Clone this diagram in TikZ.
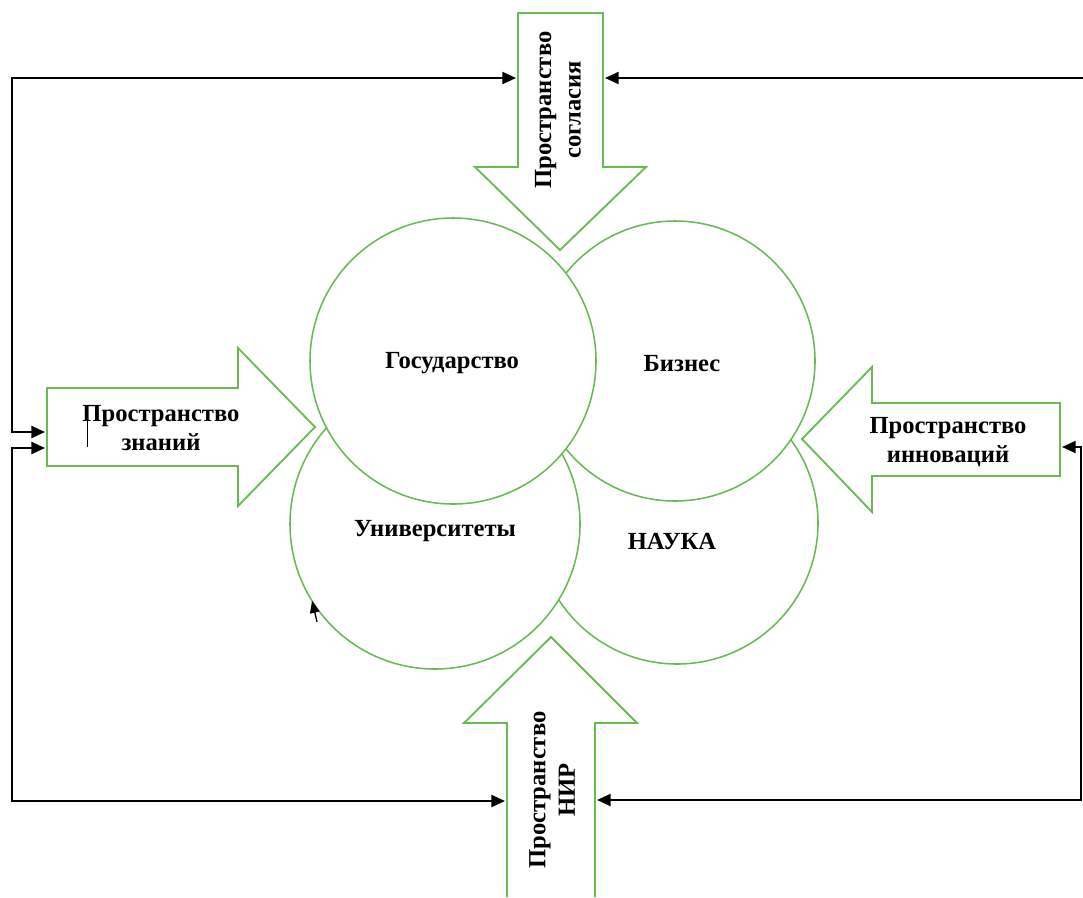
\documentclass[tikz,border=0pt]{standalone}
\usepackage{fontspec}
\setmainfont{Liberation Serif}
\usetikzlibrary{arrows.meta,positioning,calc}
\definecolor{leaf}{RGB}{104,186,84}

\begin{document}
\begin{tikzpicture}[x=0.25mm,y=-0.25mm,
    circ/.style={circle,draw=leaf,line width=1.1pt,fill=white,inner sep=0pt,outer sep=0pt},
    bigarrow/.style={draw=leaf,line width=1.3pt,fill=white,line join=miter},
    lbl/.style={align=center,font=\fontsize{17.5}{21}\selectfont\bfseries},
    link/.style={draw=black,line width=1.4pt,-{Triangle[length=3.4mm,width=3mm]}},
    twoway/.style={draw=black,line width=1.4pt,{Triangle[length=3.4mm,width=3mm]}-{Triangle[length=3.4mm,width=3mm]}}]

    \useasboundingbox (0,0) rectangle (1083,897);

    % four spheres
    \node[circ,minimum size=70.5mm] (nauka) at (677,523) {};
    \node[circ,minimum size=72.5mm] (univ) at (435,524) {};
    \node[circ,minimum size=70mm] (biz) at (675,361) {};
    \node[circ,minimum size=71.5mm] (gos) at (453,361) {};

    \node[lbl] (tgos) at (452,363) {Государство};
    \node[lbl] (tbiz) at (682,364) {Бизнес};
    \node[lbl] (tuniv) at (435,531) {Университеты};
    \node[lbl] (tnauka) at (672,541) {НАУКА};

    % spaces
    \draw[bigarrow] (518,13) -- (603,13) -- (603,167) -- (646,167) -- (560,250) -- (475,167) -- (518,167) -- cycle;
    \draw[bigarrow] (507,897) -- (507,723) -- (464,723) -- (551,637) -- (637,723) -- (595,723) -- (595,897);
    \draw[bigarrow] (47,388) -- (238,388) -- (238,348) -- (315,427) -- (238,506) -- (238,466) -- (47,466) -- cycle;
    \draw[bigarrow] (1060,403) -- (872,403) -- (872,367) -- (802,439) -- (872,512) -- (872,476) -- (1060,476) -- cycle;

    \node[lbl,rotate=90] (sogl) at (558,110) {Пространство\\согласия};
    \node[lbl,rotate=90] (nir) at (552,790) {Пространство\\НИР};
    \node[lbl] (zn) at (161,428) {Пространство\\знаний};
    \node[lbl] (inn) at (948,442) {Пространство\\инноваций};

    % feedback lines
    \coordinate (tl) at (12,78);
    \coordinate (bl) at (12,801);
    \coordinate (tr) at (1083,78);
    \coordinate (br) at (1081,800);
    \coordinate (soglW) at (516,78);
    \coordinate (soglE) at (605,78);
    \coordinate (znN) at (45,432);
    \coordinate (znS) at (45,448);
    \coordinate (nirW) at (505,801);
    \coordinate (nirE) at (597,800);
    \coordinate (innE) at (1062,447);

    \draw[twoway] (znN) -| (tl) -- (soglW);
    \draw[twoway] (znS) -| (bl) -- (nirW);
    \draw[twoway] (innE) -| (br) -- (nirE);
    \draw[link] (tr) -- (soglE);

    \draw[line width=1pt,-{Triangle[length=3mm,width=2.4mm]}] ([shift={(5,21)}]univ.212) -- (univ.212);
    \draw[line width=0.7pt] (87,405) -- (87,447);
\end{tikzpicture}
\end{document}
